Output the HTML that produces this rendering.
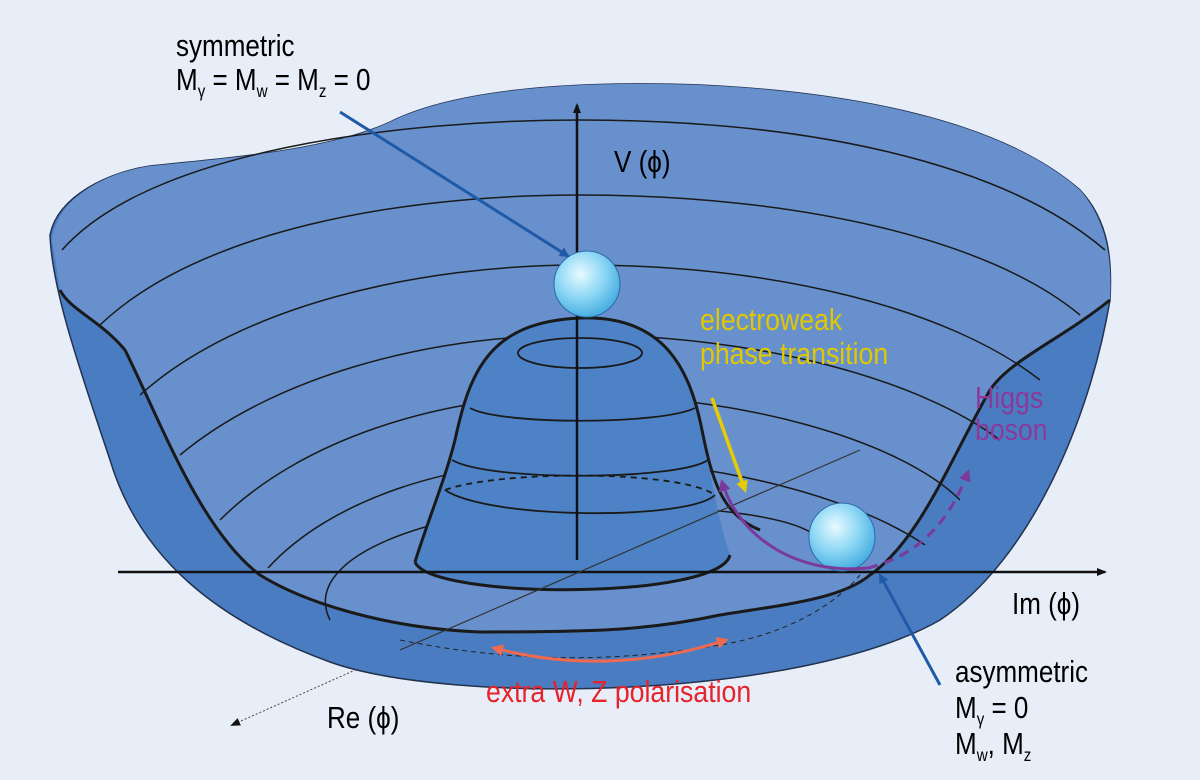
<!DOCTYPE html>
<html><head><meta charset="utf-8"><style>
html,body{margin:0;padding:0;background:#e8eef8;}
svg{display:block}
text{font-family:"Liberation Sans",sans-serif;font-size:31px;}
</style></head><body>
<svg width="1200" height="780" viewBox="0 0 1200 780" xmlns="http://www.w3.org/2000/svg">
<defs>
<radialGradient id="ball" cx="0.4" cy="0.35" r="0.7">
<stop offset="0" stop-color="#e8faff"/><stop offset="0.5" stop-color="#8fd8f5"/><stop offset="1" stop-color="#3fa8de"/>
</radialGradient>
<marker id="ab" markerWidth="10" markerHeight="10" refX="8" refY="5" orient="auto" markerUnits="userSpaceOnUse"><path d="M0,0 L10,5 L0,10 Z" fill="#1f5aa8"/></marker>
<marker id="ak" markerWidth="10" markerHeight="10" refX="8" refY="5" orient="auto" markerUnits="userSpaceOnUse"><path d="M0,1 L10,5 L0,9 Z" fill="#111"/></marker>
<marker id="ay" markerWidth="12" markerHeight="12" refX="9" refY="6" orient="auto" markerUnits="userSpaceOnUse"><path d="M0,0 L12,6 L0,12 Z" fill="#e6cc00"/></marker>
<marker id="ap" markerWidth="12" markerHeight="12" refX="9" refY="6" orient="auto" markerUnits="userSpaceOnUse"><path d="M0,0 L12,6 L0,12 Z" fill="#7a3a9a"/></marker>
<marker id="ar" markerWidth="12" markerHeight="12" refX="9" refY="6" orient="auto-start-reverse" markerUnits="userSpaceOnUse"><path d="M0,0 L12,6 L0,12 Z" fill="#f06a50"/></marker>
</defs>
<rect width="1200" height="780" fill="#e8eef8"/>
<line x1="400" y1="650" x2="232" y2="725" stroke="#444" stroke-width="1" stroke-dasharray="2,2" marker-end="url(#ak)"/>
<path d="M50,235 C58,195 110,172 150,166 C230,158 330,150 390,122 C450,92 560,80 700,85 C850,92 1000,120 1080,190 C1110,222 1112,262 1110,300 C1090,420 1030,560 940,620 C800,700 450,705 330,662 C220,622 140,560 110,460 C80,370 52,290 50,235 Z" fill="#4a7cc2" stroke="#22324f" stroke-width="1.5"/>
<path d="M52,240 C58,195 110,172 150,166 C230,158 330,150 390,122 C450,92 560,80 700,85 C850,92 1000,120 1080,190 C1108,222 1112,262 1110,300 C1060,340 1010,360 990,390 C950,460 920,540 870,575 C840,600 780,605 720,615 C650,630 600,632 480,632 C380,628 300,600 260,575 C200,530 160,420 125,350 C100,320 70,310 60,290 Z" fill="#6790cd"/>
<path d="M60,290 C70,310 100,320 125,350 C160,420 200,530 260,575 C300,600 380,628 480,632 C600,632 650,630 720,615 C780,605 840,600 870,575 C920,540 950,460 990,390 C1010,360 1060,340 1110,300" fill="none" stroke="#1a1a1a" stroke-width="3"/>
<g fill="none" stroke="#1a1a1a" stroke-width="1.5">
<path d="M62,250 C150,150 400,120 580,120 C800,120 1000,160 1105,250"/>
<path d="M100,325 C200,230 400,195 580,195 C800,195 990,240 1080,315"/>
<path d="M140,395 C240,305 420,265 580,265 C780,265 950,310 1040,380"/>
<path d="M180,455 C270,380 420,335 580,335 C760,335 920,380 1000,440"/>
<path d="M220,520 C300,440 440,395 580,395 C740,395 900,440 960,500"/>
<path d="M268,568 C330,500 450,460 580,460 C720,460 860,500 925,545"/>
<path d="M330,620 C300,560 420,510 580,505 C700,505 800,515 820,540"/>
</g>
<path d="M415,562 C428,520 445,480 455,440 C470,370 490,322 580,318 C665,315 690,370 702,430 C712,480 718,520 730,555 C720,600 430,600 415,562 Z" fill="#4d82c6"/>
<path d="M415,562 C428,520 445,480 455,440 C470,370 490,322 580,318 C665,315 690,370 702,430 C712,480 722,515 760,530" fill="none" stroke="#1a1a1a" stroke-width="3"/>
<path d="M415,562 C430,600 720,600 730,555" fill="none" stroke="#1a1a1a" stroke-width="3"/>
<g fill="none" stroke="#1a1a1a" stroke-width="1.8">
<ellipse cx="580" cy="353" rx="62" ry="15"/>
<path d="M470,408 C500,425 660,425 695,408"/>
<path d="M452,460 C490,482 680,480 708,460"/>
<path d="M445,490 C490,520 690,520 715,495"/>
<path d="M445,490 C500,470 680,470 715,495" stroke-dasharray="6,5"/>
</g>
<line x1="577" y1="560" x2="577" y2="105" stroke="#111" stroke-width="2.5" marker-end="url(#ak)"/>
<line x1="118" y1="572" x2="1105" y2="572" stroke="#111" stroke-width="2.5" marker-end="url(#ak)"/>
<line x1="860" y1="450" x2="400" y2="650" stroke="#333" stroke-width="1.2"/>
<path d="M400,640 C500,660 600,665 720,645 C780,635 830,610 860,575" fill="none" stroke="#222" stroke-width="1" stroke-dasharray="5,4"/>
<ellipse cx="587" cy="284" rx="33" ry="33" fill="url(#ball)" stroke="#2a6aa8" stroke-width="1"/>
<ellipse cx="842" cy="537" rx="33" ry="34" fill="url(#ball)" stroke="#2a6aa8" stroke-width="1"/>
<line x1="340" y1="112" x2="568" y2="256" stroke="#1f5aa8" stroke-width="3" marker-end="url(#ab)"/>
<line x1="940" y1="685" x2="880" y2="575" stroke="#1f5aa8" stroke-width="3" marker-end="url(#ab)"/>
<line x1="712" y1="398" x2="745" y2="490" stroke="#e6cc00" stroke-width="3.5" marker-end="url(#ay)"/>
<path d="M868,568 C800,575 740,540 722,482" fill="none" stroke="#7a3a9a" stroke-width="3" marker-end="url(#ap)"/>
<path d="M868,568 C920,555 950,520 968,472" fill="none" stroke="#7a3a9a" stroke-width="3" stroke-dasharray="10,7" marker-end="url(#ap)"/>
<path d="M494,648 C570,668 650,665 726,640" fill="none" stroke="#f06a50" stroke-width="3" marker-start="url(#ar)" marker-end="url(#ar)"/>
<g>
<text transform="translate(176,56) scale(0.84,1)">symmetric</text>
<text transform="translate(176,90) scale(0.84,1)">M<tspan font-size="18" dy="7">γ</tspan><tspan dy="-7"> = M</tspan><tspan font-size="18" dy="7">w</tspan><tspan dy="-7"> = M</tspan><tspan font-size="18" dy="7">z</tspan><tspan dy="-7"> = 0</tspan></text>
<text transform="translate(614,172) scale(0.84,1)">V (ϕ)</text>
<text transform="translate(700,330) scale(0.86,1)" fill="#e0c800">electroweak</text>
<text transform="translate(700,364) scale(0.86,1)" fill="#e0c800">phase transition</text>
<text transform="translate(975,408) scale(0.86,1)" fill="#8a3a9a">Higgs</text>
<text transform="translate(975,440) scale(0.86,1)" fill="#8a3a9a">boson</text>
<text transform="translate(1012,614) scale(0.84,1)">Im (ϕ)</text>
<text transform="translate(327,728) scale(0.84,1)">Re (ϕ)</text>
<text transform="translate(486,702) scale(0.86,1)" fill="#e8222a">extra W, Z polarisation</text>
<text transform="translate(955,682) scale(0.84,1)">asymmetric</text>
<text transform="translate(955,718) scale(0.84,1)">M<tspan font-size="18" dy="7">γ</tspan><tspan dy="-7"> = 0</tspan></text>
<text transform="translate(955,754) scale(0.84,1)">M<tspan font-size="18" dy="7">w</tspan><tspan dy="-7">, M</tspan><tspan font-size="18" dy="7">z</tspan></text>
</g>
</svg>
</body></html>
